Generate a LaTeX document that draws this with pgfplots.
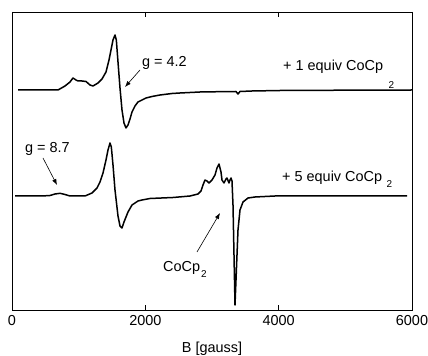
\documentclass[border=0pt]{standalone}
\usepackage{fontspec}
\setmainfont{Liberation Sans}
\usepackage{pgfplots}
\pgfplotsset{compat=1.18}
\usetikzlibrary{arrows.meta}

\begin{document}
\fontsize{14.5}{17}\selectfont
\begin{tikzpicture}
\path[use as bounding box] (0,0) rectangle (428bp,356bp);
\begin{axis}[
  at={(12bp,46bp)}, anchor=south west,
  scale only axis, width=400bp, height=298bp,
  xmin=0, xmax=6000, ymin=-310, ymax=-12,
  xtick={0,2000,4000,6000}, ytick=\empty,
  scaled x ticks=false,
  major tick length=5bp,
  tick style={line width=0.6bp, black},
  axis line style={line width=0.9bp},
  /pgf/number format/1000 sep={},
  /pgf/number format/assume math mode=true,
  xticklabel style={anchor=base, yshift=-15bp, font=\fontsize{14.5}{17}\selectfont},
  xlabel={B [gauss]},
  xlabel style={at={(axis description cs:0.5,0)}, anchor=center, yshift=-39bp, font=\fontsize{14.5}{17}\selectfont},
  clip=false,
]
% + 1 equiv CoCp2
\addplot[black, line width=1.5bp, line join=round, no marks] coordinates {
(90,-90) (690,-90) (795,-86) (870,-82) (915,-78) (960,-80) (990,-81)
(1050,-81) (1110,-81.5) (1170,-85) (1215,-86) (1290,-83) (1350,-79)
(1410,-72) (1455,-60) (1485,-50) (1515,-40) (1545,-35) (1565,-40)
(1590,-62) (1620,-88) (1650,-110) (1680,-123) (1710,-128) (1740,-125)
(1770,-119) (1800,-112) (1845,-106) (1890,-102) (1950,-100) (2010,-98)
(2100,-96.5) (2220,-95) (2400,-93.5) (2520,-93) (2820,-92) (3000,-91.8)
(3360,-91.5) (3390,-94) (3420,-91.5) (3600,-91) (4020,-90.5) (5000,-90.2) (6000,-90)
};
% + 5 equiv CoCp2
\addplot[black, line width=1.5bp, line join=round, no marks] coordinates {
(45,-196) (450,-196) (570,-195.5) (645,-194) (720,-193.3) (795,-194.5)
(870,-196) (1095,-196) (1200,-193) (1275,-188) (1320,-182) (1365,-173)
(1410,-160) (1440,-150) (1470,-143) (1490,-147) (1515,-165) (1545,-190)
(1590,-216) (1620,-226) (1650,-228) (1680,-222) (1740,-212) (1800,-205)
(1890,-201) (1950,-200) (2070,-198.5) (2415,-197.5) (2670,-196)
(2790,-194) (2835,-191) (2865,-185) (2895,-180) (2925,-181) (2955,-183)
(3000,-180) (3045,-175) (3075,-168) (3105,-164) (3135,-172) (3150,-180)
(3180,-183) (3210,-179) (3225,-178) (3255,-183) (3270,-180) (3285,-178)
(3300,-181) (3315,-205) (3330,-255) (3345,-305) (3360,-280) (3375,-255)
(3390,-230) (3420,-210) (3465,-202) (3540,-198) (3645,-197) (3945,-196) (5925,-196)
};
% annotations
\node[anchor=base west, inner sep=0] at (axis cs:1950,-67) {g = 4.2};
\draw[-{Latex[length=6bp,width=4.5bp]}, line width=0.6bp] (axis cs:1920,-70) -- (axis cs:1695,-87);
\node[anchor=base west, inner sep=0] (t1) at (axis cs:4065,-71) {+ 1 equiv CoCp};
\node[anchor=base west, inner sep=0, font=\fontsize{10}{12}\selectfont] at ([xshift=5bp,yshift=-18bp]t1.base east) {2};
\node[anchor=base west, inner sep=0] (t2) at (axis cs:4050,-182) {+ 5 equiv CoCp};
\node[anchor=base west, inner sep=0, font=\fontsize{10}{12}\selectfont] at ([xshift=4bp,yshift=-6bp]t2.base east) {2};
\node[anchor=base west, inner sep=0] at (axis cs:195,-153) {g = 8.7};
\draw[-{Latex[length=6bp,width=4.5bp]}, line width=0.6bp] (axis cs:465,-158) -- (axis cs:675,-185);
\node[anchor=base west, inner sep=0] (t3) at (axis cs:2265,-272) {CoCp};
\node[anchor=base west, inner sep=0, font=\fontsize{10}{12}\selectfont] at ([xshift=0.5bp,yshift=-6bp]t3.base east) {2};
\draw[-{Latex[length=6bp,width=4.5bp]}, line width=0.6bp] (axis cs:2775,-252) -- (axis cs:3120,-213);
\end{axis}
\end{tikzpicture}
\end{document}
